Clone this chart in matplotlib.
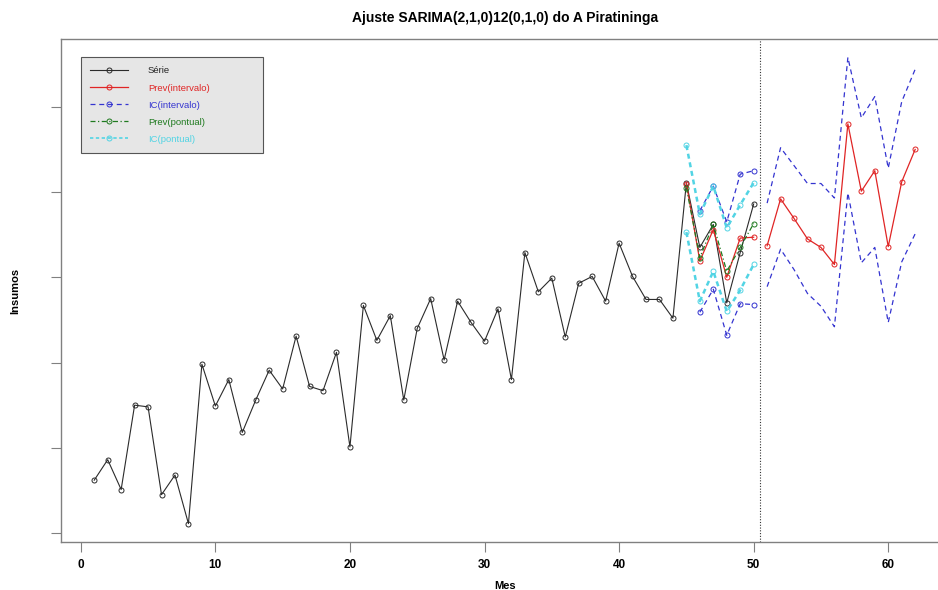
import matplotlib
matplotlib.use("Agg")
import matplotlib.pyplot as plt
from matplotlib.lines import Line2D

plt.rcParams['font.family'] = ['Liberation Sans', 'DejaVu Sans']

# ---- data ----
meses_serie = list(range(1, 51))
serie = [262, 286, 251, 350, 348, 245, 268, 211, 398, 349,
         380, 318, 356, 391, 369, 431, 372, 367, 412, 301,
         467, 426, 455, 356, 440, 475, 403, 472, 447, 425,
         463, 380, 529, 483, 499, 430, 493, 501, 472, 540,
         501, 474, 474, 452, 611, 535, 562, 470, 529, 586]

meses_teste = [45, 46, 47, 48, 49, 50]
prev_intervalo = [610, 519, 556, 500, 546, 547]
prev_pontual = [605, 523, 562, 507, 535, 563]
ic_pontual_sup = [655, 574, 607, 558, 585, 611]
ic_pontual_inf = [553, 472, 507, 460, 485, 515]

meses_ic_teste = [46, 47, 48, 49, 50]
ic_intervalo_sup = [578, 607, 565, 621, 625]
ic_intervalo_inf = [459, 486, 432, 469, 468]

meses_futuro = list(range(51, 63))
prev_futuro = [537, 592, 569, 545, 535, 515, 680, 601, 625, 536, 612, 650]
ic_futuro_sup = [587, 652, 631, 610, 610, 593, 758, 687, 712, 628, 706, 744]
ic_futuro_inf = [489, 533, 509, 481, 466, 442, 599, 517, 535, 447, 518, 551]

corte = 50.5
x_ticks = [0, 10, 20, 30, 40, 50, 60]
y_ticks = [200, 300, 400, 500, 600, 700]

# ---- style ----
c_serie = '#2b2b2b'
c_red = '#e02525'
c_blue = '#3434d0'
c_green = '#1f7a1f'
c_cyan = '#52d4e4'
ms = 3.6
mew = 0.7

fig = plt.figure(figsize=(9.38, 5.9), dpi=100)
W, H = 938, 590
left, right, top, bottom = 61.4, 948.0, 38.7, 542.3
ax = fig.add_axes([left / W, (H - bottom) / H, (right - left) / W, (bottom - top) / H])

ax.plot(meses_serie, serie, color=c_serie, lw=0.8, marker='o', ms=ms,
        mfc='none', mec=c_serie, mew=mew)

ax.plot(meses_teste, prev_intervalo, color=c_red, lw=0.9, marker='o', ms=ms,
        mfc='none', mec=c_red, mew=mew)
ax.plot(meses_futuro, prev_futuro, color=c_red, lw=0.9, marker='o', ms=ms,
        mfc='none', mec=c_red, mew=mew)

blue_dash = (0, (4, 3))
for ys in (ic_intervalo_sup, ic_intervalo_inf):
    ax.plot(meses_ic_teste, ys, color=c_blue, lw=0.9, ls=blue_dash, marker='o',
            ms=ms, mfc='none', mec=c_blue, mew=mew)
for ys in (ic_futuro_sup, ic_futuro_inf):
    ax.plot(meses_futuro, ys, color=c_blue, lw=0.9, ls=blue_dash)

green_ls = (0, (4, 2, 1, 2))
ax.plot(meses_teste, prev_pontual, color=c_green, lw=0.9, ls=green_ls, marker='o',
        ms=ms, mfc='none', mec=c_green, mew=mew)

cyan_ls = (0, (2, 1.5))
for ys in (ic_pontual_sup, ic_pontual_inf):
    ax.plot(meses_teste, ys, color=c_cyan, lw=1.8, ls=cyan_ls, marker='o',
            ms=ms, mfc='none', mec=c_cyan, mew=mew)

ax.axvline(corte, color='#333333', lw=0.8, ls=(0, (1, 1.5)))

allv = serie + prev_intervalo + prev_pontual + ic_pontual_sup + ic_pontual_inf + \
    ic_intervalo_sup + ic_intervalo_inf + prev_futuro + ic_futuro_sup + ic_futuro_inf
ymin, ymax = min(allv), max(allv)
pad = 0.04 * (ymax - ymin)
ax.set_ylim(ymin - pad, ymax + pad)
allx = meses_serie + meses_futuro
xpad = 0.04 * (max(allx) - min(allx))
ax.set_xlim(min(allx) - xpad, max(allx) + xpad)

ax.set_xticks(x_ticks)
ax.set_xticklabels([str(t) for t in x_ticks], fontsize=8.5, fontweight='bold')
ax.set_yticks(y_ticks)
ax.set_yticklabels([])
ax.tick_params(axis='both', direction='out', length=7, width=0.8, colors='#808080',
               labelcolor='black')
ax.tick_params(axis='x', pad=5)
for s in ax.spines.values():
    s.set_color('#808080')
    s.set_linewidth(1.0)

ax.set_xlabel('Mes', fontsize=8, fontweight='bold', labelpad=7)
ax.set_ylabel('Insumos', fontsize=8, fontweight='bold', labelpad=19)
ax.set_title('Ajuste SARIMA(2,1,0)12(0,1,0) do A Piratininga', fontsize=10,
             fontweight='bold', pad=12)

handles = [
    Line2D([], [], color=c_serie, lw=0.8, marker='o', ms=ms, mfc='none', mew=mew),
    Line2D([], [], color=c_red, lw=0.9, marker='o', ms=ms, mfc='none', mew=mew),
    Line2D([], [], color=c_blue, lw=0.9, ls=blue_dash, marker='o', ms=ms, mfc='none', mew=mew),
    Line2D([], [], color=c_green, lw=0.9, ls=green_ls, marker='o', ms=ms, mfc='none', mew=mew),
    Line2D([], [], color=c_cyan, lw=1.2, ls=cyan_ls, marker='o', ms=ms, mfc='none', mew=mew),
]
labels = ['Série', 'Prev(intervalo)', 'IC(intervalo)', 'Prev(pontual)', 'IC(pontual)']
leg = ax.legend(handles, labels, loc='upper left',
                bbox_to_anchor=(0.0221, 0.775, 0.2053, 0.1886), mode='expand',
                fontsize=6.8, frameon=True, fancybox=False, handlelength=4.0,
                handletextpad=2.1, labelspacing=0.85, borderpad=1.0,
                borderaxespad=0)
leg.get_frame().set_facecolor('#e6e6e6')
leg.get_frame().set_edgecolor('#555555')
leg.get_frame().set_linewidth(0.8)
leg.get_frame().set_alpha(1)
for t, c in zip(leg.get_texts(), ['#222222', c_red, c_blue, c_green, c_cyan]):
    t.set_color(c)

fig.savefig('out.png', dpi=100)
